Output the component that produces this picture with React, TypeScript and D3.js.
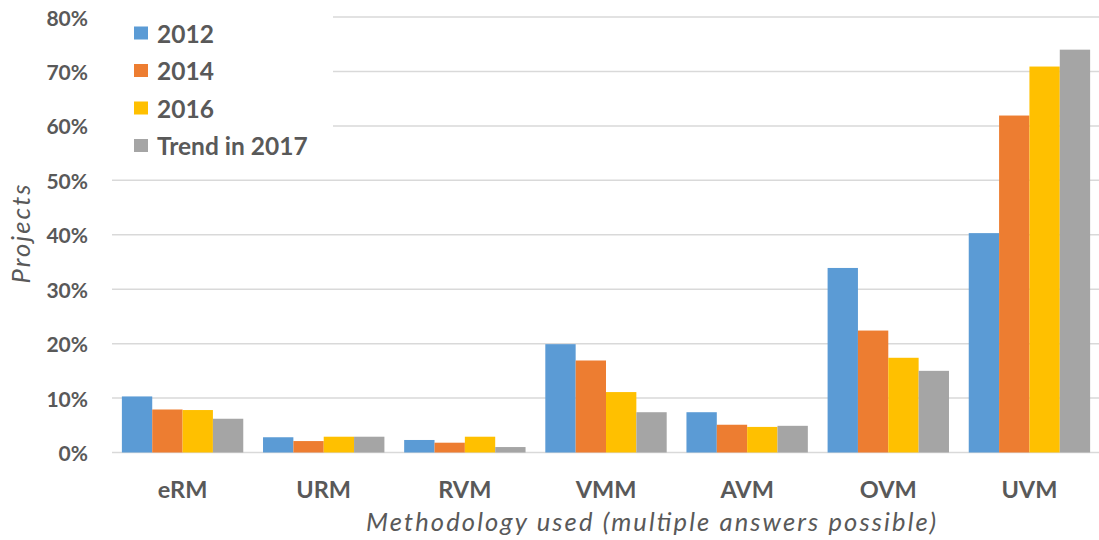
import React from "react";
import * as d3 from "d3";

const categories = ["eRM", "URM", "RVM", "VMM", "AVM", "OVM", "UVM"];
const seriesNames = ["2012", "2014", "2016", "Trend in 2017"];
const values2012 = [10.3, 2.8, 2.3, 19.9, 7.4, 33.9, 40.3];
const values2014 = [7.9, 2.1, 1.8, 16.9, 5.1, 22.4, 61.9];
const values2016 = [7.8, 2.9, 2.9, 11.1, 4.7, 17.4, 70.9];
const values2017 = [6.2, 2.9, 1.0, 7.4, 4.9, 15.0, 74.0];
const yTicks = [0, 10, 20, 30, 40, 50, 60, 70, 80];

const seriesValues = [values2012, values2014, values2016, values2017];
const colors = ["#5B9BD5", "#ED7D31", "#FFC000", "#A5A5A5"];

const W = 1099;
const H = 540;
const left = 112;
const right = 1100;
const top = 17;
const bottom = 452.5;
const font = "Lato, 'Open Sans', sans-serif";
const textColor = "#595959";

export default function App() {
  const x = d3
    .scaleBand<string>()
    .domain(categories)
    .range([left, right])
    .paddingInner(0.14)
    .paddingOuter(0.07);
  const xs = d3
    .scaleBand<string>()
    .domain(seriesNames)
    .range([0, x.bandwidth()])
    .padding(0);
  const y = d3.scaleLinear().domain([0, 80]).range([bottom, top]);

  return (
    <div style={{ position: "fixed", left: 0, top: 0 }}>
      <svg width={W} height={H} style={{ display: "block", background: "#fff" }}>
        {/* gridlines */}
        {yTicks.map((t) => (
          <line
            key={t}
            x1={left}
            x2={W}
            y1={y(t)}
            y2={y(t)}
            stroke="#D9D9D9"
            strokeWidth={1.5}
          />
        ))}
        {/* y tick labels */}
        {yTicks.map((t) => (
          <text
            key={t}
            x={88}
            y={y(t)}
            textAnchor="end"
            dominantBaseline="central"
            fontFamily={font}
            fontWeight={700}
            fontSize={21}
            fill={textColor}
          >
            {t}%
          </text>
        ))}
        {/* bars */}
        {categories.map((c, ci) => (
          <g key={c} transform={`translate(${x(c)},0)`}>
            {seriesNames.map((s, si) => {
              const v = seriesValues[si][ci];
              return (
                <rect
                  key={s}
                  x={xs(s)}
                  y={y(v)}
                  width={xs.bandwidth()}
                  height={y(0) - y(v)}
                  fill={colors[si]}
                />
              );
            })}
          </g>
        ))}
        {/* category labels */}
        {categories.map((c) => (
          <text
            key={c}
            x={(x(c) as number) + x.bandwidth() / 2}
            y={488.5}
            textAnchor="middle"
            dominantBaseline="central"
            fontFamily={font}
            fontWeight={700}
            fontSize={23.5}
            fill={textColor}
          >
            {c}
          </text>
        ))}
        {/* axis titles */}
        <text
          x={651}
          y={521}
          textAnchor="middle"
          dominantBaseline="central"
          fontFamily={font}
          fontStyle="italic"
          fontSize={25.5}
          textLength={570}
          lengthAdjust="spacing"
          fill={textColor}
        >
          Methodology used (multiple answers possible)
        </text>
        <text
          transform={`translate(20,234) rotate(-90)`}
          textAnchor="middle"
          dominantBaseline="central"
          fontFamily={font}
          fontStyle="italic"
          fontSize={25.5}
          textLength={99}
          lengthAdjust="spacing"
          fill={textColor}
        >
          Projects
        </text>
        {/* legend */}
        <rect x={112} y={0} width={221} height={165} fill="#fff" />
        {seriesNames.map((s, i) => (
          <g key={s} transform={`translate(134,${33 + i * 37.5})`}>
            <rect x={0} y={-6.5} width={14} height={13} fill={colors[i]} />
            <text
              x={23}
              y={0}
              dominantBaseline="central"
              fontFamily={font}
              fontWeight={700}
              fontSize={24.5}
              fill={textColor}
            >
              {s}
            </text>
          </g>
        ))}
      </svg>
    </div>
  );
}
